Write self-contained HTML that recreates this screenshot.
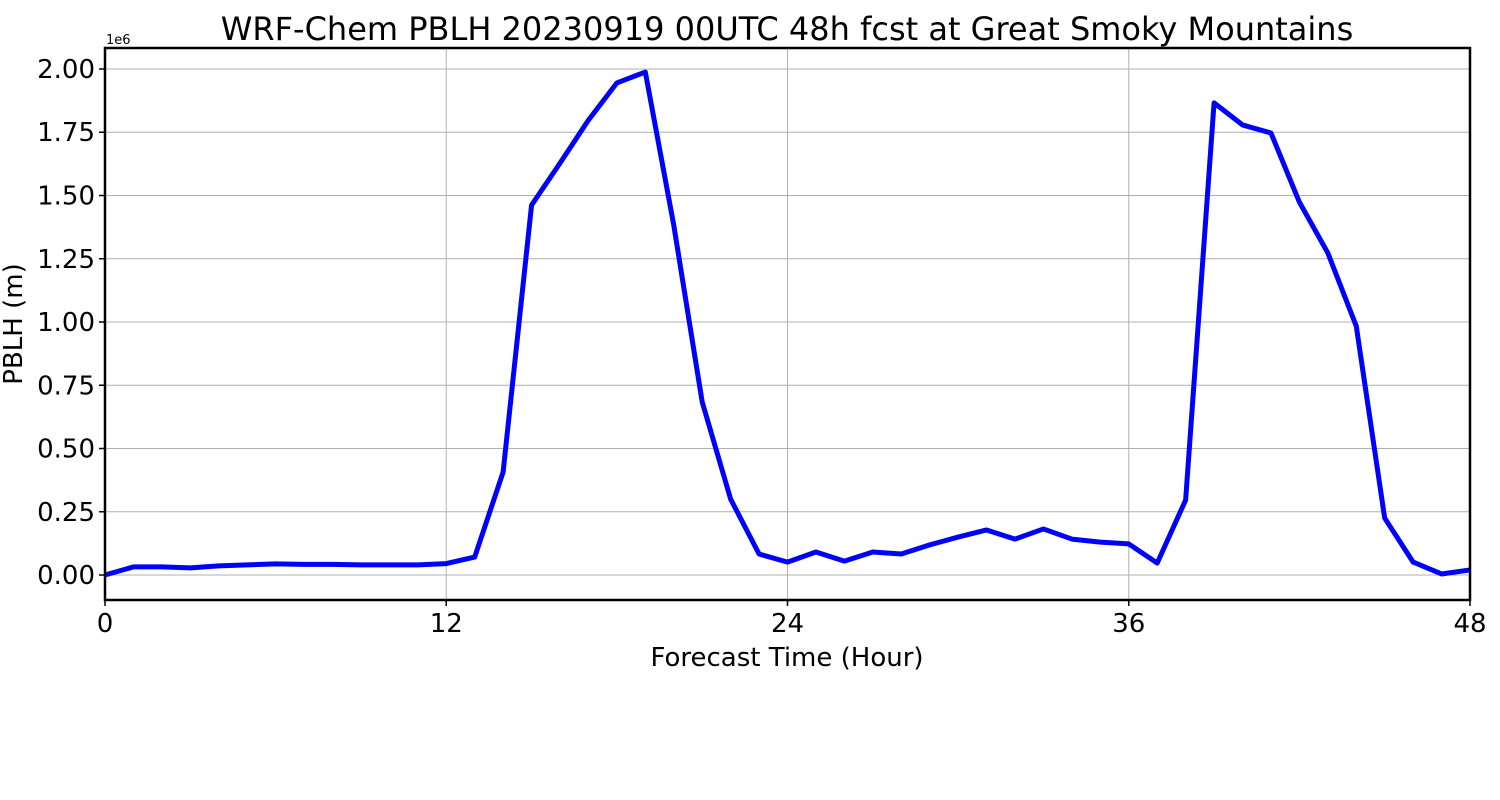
<!DOCTYPE html>
<html><head><meta charset="utf-8">
<style>
html,body{margin:0;padding:0;background:#fff;}
svg{display:block;font-family:"DejaVu Sans","Liberation Sans",sans-serif;}
</style></head>
<body>
<svg id="chart" width="1500" height="800">
<text x="787" y="40" font-size="32" text-anchor="middle">WRF-Chem PBLH  20230919 00UTC 48h fcst at Great Smoky Mountains</text>
<g id="grid"></g>
<g id="ticks"></g>
<polyline id="line" fill="none" stroke="#0000ff" stroke-width="5" stroke-linejoin="round"/>
<rect x="105" y="48" width="1365" height="552" fill="none" stroke="#000" stroke-width="2.5"/>
<text x="106" y="44" font-size="13">1e6</text>
<text x="787" y="666" font-size="26" text-anchor="middle">Forecast Time (Hour)</text>
<text x="22" y="324" font-size="26" text-anchor="middle" transform="rotate(-90 22 324)">PBLH  (m)</text>
</svg>
<script>
const hours = [0,1,2,3,4,5,6,7,8,9,10,11,12,13,14,15,16,17,18,19,20,21,22,23,24,25,26,27,28,29,30,31,32,33,34,35,36,37,38,39,40,41,42,43,44,45,46,47,48];
const pblh = [0,0.032,0.032,0.028,0.036,0.040,0.044,0.042,0.042,0.040,0.040,0.040,0.045,0.071,0.407,1.462,1.628,1.798,1.945,1.988,1.383,0.684,0.300,0.083,0.051,0.091,0.055,0.091,0.083,0.119,0.150,0.178,0.142,0.182,0.142,0.130,0.123,0.047,0.296,1.866,1.779,1.747,1.474,1.273,0.984,0.225,0.051,0.004,0.020];
const xTicks = [0,12,24,36,48];
const yTicks = [0,0.25,0.5,0.75,1.0,1.25,1.5,1.75,2.0];
const yTickLabels = ["0.00","0.25","0.50","0.75","1.00","1.25","1.50","1.75","2.00"];
const X0=105,X1=1470,Y0=600,Y1=48,xmin=0,xmax=48,ymin=-0.0988,ymax=2.083;
const xs=v=>X0+(v-xmin)/(xmax-xmin)*(X1-X0);
const ys=v=>Y0-(v-ymin)/(ymax-ymin)*(Y0-Y1);
const NS="http://www.w3.org/2000/svg";
const grid=document.getElementById('grid'),ticks=document.getElementById('ticks');
function mk(tag,attrs,parent){const e=document.createElementNS(NS,tag);for(const k in attrs)e.setAttribute(k,attrs[k]);parent.appendChild(e);return e;}
xTicks.forEach(t=>{
  const x=xs(t);
  const g=mk('line',{x1:x,x2:x,y1:Y1,y2:Y0,stroke:'#b0b0b0','stroke-width':1},grid);
  
  
  const tk=mk('line',{x1:x,x2:x,y1:Y0,y2:Y0+6,stroke:'#000','stroke-width':1.5},ticks);
  
  
  const tx=mk('text',{x:x,y:Y0+32,'font-size':26,'text-anchor':'middle'},ticks);
  tx.textContent=t;
  
  
});
yTicks.forEach((t,i)=>{
  const y=ys(t);
  const g=mk('line',{x1:X0,x2:X1,y1:y,y2:y,stroke:'#b0b0b0','stroke-width':1},grid);
  
  
  const tk=mk('line',{x1:X0-6,x2:X0,y1:y,y2:y,stroke:'#000','stroke-width':1.5},ticks);
  
  
  const tx=mk('text',{x:X0-10,y:y+9,'font-size':26,'text-anchor':'end'},ticks);
  tx.textContent=yTickLabels[i];
  
  
});
document.getElementById('line').setAttribute('points',hours.map((h,i)=>xs(h)+','+ys(pblh[i])).join(' '));
</script>
</body></html>
